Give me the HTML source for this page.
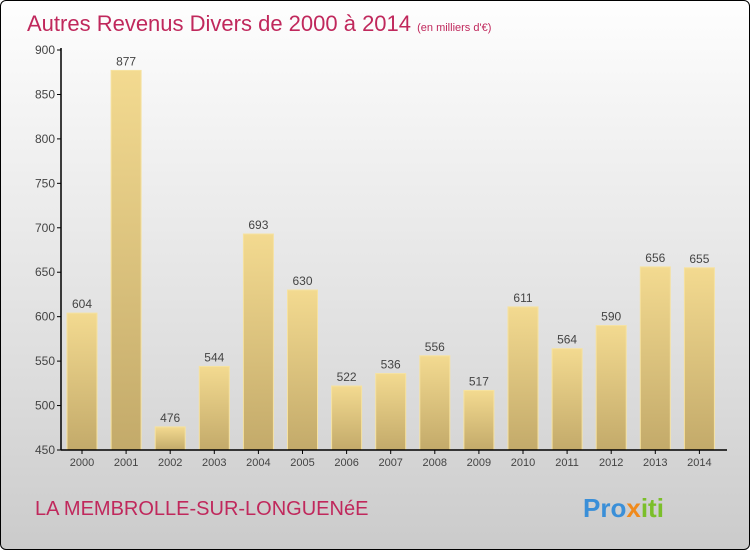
<!DOCTYPE html>
<html><head><meta charset="utf-8"><style>
body{margin:0;}
#wrap{width:748px;height:548px;border:1px solid #000;border-radius:6px;overflow:hidden;position:relative;background:linear-gradient(#fefefe,#f4f4f4 20%,#dcdcdc 70%,#cbcbcb);font-family:"Liberation Sans","DejaVu Sans",sans-serif;}
</style></head><body>
<div id="wrap">
<svg width="748" height="548" viewBox="0 0 748 548" id="svg">
<defs>
<linearGradient id="bg" x1="0" y1="0" x2="0" y2="1"><stop offset="0" stop-color="#f3da90"/><stop offset="1" stop-color="#c3aa6a"/></linearGradient>
</defs>
<text x="26" y="30" font-size="22" fill="#c0285c">Autres Revenus Divers de 2000 à 2014 <tspan font-size="11">(en milliers d'€)</tspan></text>
<g id="bars"></g>
<g id="axes"></g>
<text x="34" y="514" font-size="20" fill="#c0285c">LA MEMBROLLE-SUR-LONGUENéE</text>
<text x="582" y="516" font-size="26" font-weight="bold"><tspan fill="#3a8fd8">Pro</tspan><tspan fill="#f08a1c">x</tspan><tspan fill="#7bbf2a">iti</tspan></text>
</svg>
</div>
<script>
const years=["2000","2001","2002","2003","2004","2005","2006","2007","2008","2009","2010","2011","2012","2013","2014"];
const values=[604,877,476,544,693,630,522,536,556,517,611,564,590,656,655];
const yTicks=[450,500,550,600,650,700,750,800,850,900];
const NS="http://www.w3.org/2000/svg";
const x0=60,y0=449,yMin=450,yMax=900,plotH=400;
function y(v){return y0-(v-yMin)/(yMax-yMin)*plotH;}
function xc(i){return 81+i*44.1;}
function mk(t,a,p){const e=document.createElementNS(NS,t);for(const k in a)e.setAttribute(k,a[k]);p.appendChild(e);return e;}
const bars=document.getElementById('bars'),axes=document.getElementById('axes');
values.forEach((v,i)=>{
  const r=mk('rect',{x:xc(i)-15,y:y(v),width:30,height:y0-y(v),fill:'url(#bg)',stroke:'#f6e2a0','stroke-width':1},bars);
  
  
  const t=mk('text',{x:xc(i),y:y(v)-5,'text-anchor':'middle','font-size':12,fill:'#444'},bars);
  t.textContent=v;
  
  
  const xl=mk('text',{x:xc(i),y:y0+16,'text-anchor':'middle','font-size':11,fill:'#444'},axes);
  xl.textContent=years[i];
  
  
  mk('line',{x1:xc(i),x2:xc(i),y1:y0,y2:y0+4,stroke:'#000'},axes);
});
yTicks.forEach(v=>{
  mk('line',{x1:x0-4,x2:x0,y1:y(v),y2:y(v),stroke:'#000'},axes);
  const t=mk('text',{x:x0-6,y:y(v)+4,'text-anchor':'end','font-size':12,fill:'#444'},axes);
  t.textContent=v;
  
  
});
const ya=mk('line',{x1:x0,x2:x0,y1:y(yMax)-2,y2:y0,stroke:'#000','stroke-width':1.5},axes);


const xa=mk('line',{x1:x0,x2:726,y1:y0,y2:y0,stroke:'#000','stroke-width':1.5},axes);


</script>
</body></html>
